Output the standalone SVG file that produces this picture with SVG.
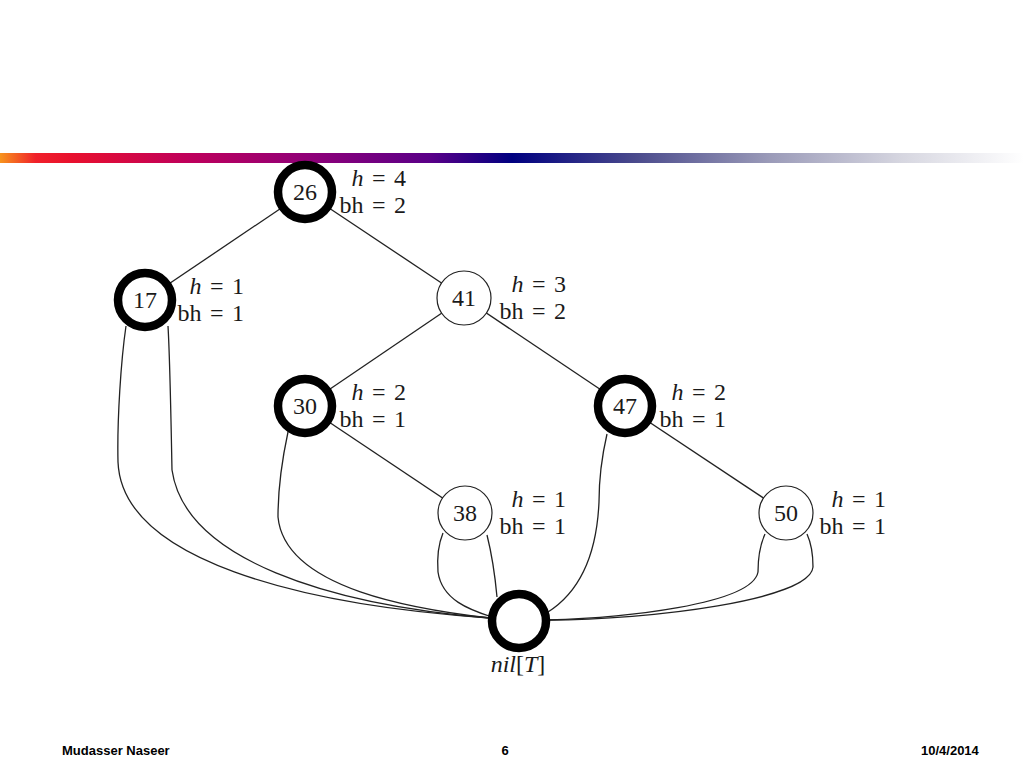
<svg xmlns="http://www.w3.org/2000/svg" width="1024" height="768" viewBox="0 0 1024 768">
<defs>
<linearGradient id="bar" x1="0" y1="0" x2="1024" y2="0" gradientUnits="userSpaceOnUse">
<stop offset="0" stop-color="#F7941D"/>
<stop offset="0.035" stop-color="#F0202A"/>
<stop offset="0.07" stop-color="#E8102E"/>
<stop offset="0.18" stop-color="#C0005A"/>
<stop offset="0.3" stop-color="#900078"/>
<stop offset="0.42" stop-color="#5A0088"/>
<stop offset="0.5" stop-color="#000080"/>
<stop offset="0.62" stop-color="#4A4A8C"/>
<stop offset="0.75" stop-color="#9A9AB8"/>
<stop offset="0.88" stop-color="#D6D6E0"/>
<stop offset="1" stop-color="#FFFFFF"/>
</linearGradient>
<style>
.edge{fill:none;stroke:#222;stroke-width:1.3}
.blk{fill:#fff;stroke:#000;stroke-width:8.5}
.red{fill:#fff;stroke:#222;stroke-width:1.2}
.num{font-family:"Liberation Serif","Times New Roman",serif;font-size:24px;fill:#1a1a1a;text-anchor:middle}
.lab{font-family:"Liberation Serif","Times New Roman",serif;font-size:24px;fill:#1a1a1a;text-anchor:end;word-spacing:2.5px}
.it{font-style:italic}
.foot{font-family:"Liberation Sans",Arial,sans-serif;font-size:13px;font-weight:bold;fill:#000}
</style>
</defs>
<rect x="0" y="0" width="1024" height="768" fill="#fff"/>
<rect x="0" y="153" width="1024" height="10" fill="url(#bar)"/>

<g id="connectors">
<line class="edge" x1="305" y1="192" x2="145" y2="300"/>
<line class="edge" x1="305" y1="192" x2="464" y2="298"/>
<line class="edge" x1="464" y1="298" x2="305" y2="406"/>
<line class="edge" x1="464" y1="298" x2="625" y2="406"/>
<line class="edge" x1="305" y1="406" x2="465" y2="513"/>
<line class="edge" x1="625" y1="406" x2="786" y2="513"/>
<path class="edge" d="M126,326 C121,360 117,420 118,462 C122,560 300,605 490,618"/>
<path class="edge" d="M168,326 C170,360 171,420 172,470 C185,560 330,605 490,618"/>
<path class="edge" d="M288,432 C282,460 278,490 278,517 C285,590 420,610 490,618"/>
<path class="edge" d="M443,533 C438,545 437,558 438,572 C442,600 470,610 492,617"/>
<path class="edge" d="M487,535 C492,555 495,575 497,597"/>
<path class="edge" d="M607,434 C601,460 599,480 599,502 C596,570 570,598 548,612"/>
<path class="edge" d="M765,534 C760,545 758,558 758,572 C752,605 620,618 548,620"/>
<path class="edge" d="M807,534 C812,545 813,556 813,567 C810,600 650,620 548,620"/>
</g>

<g id="n26"><circle class="blk" cx="305" cy="192" r="27"/><text class="num" x="305" y="200">26</text>
<text class="lab" x="406" y="186"><tspan class="it">h</tspan> = 4</text><text class="lab" x="406" y="213">bh = 2</text></g>
<g id="n17"><circle class="blk" cx="145" cy="300" r="27"/><text class="num" x="145" y="308">17</text>
<text class="lab" x="244" y="294"><tspan class="it">h</tspan> = 1</text><text class="lab" x="244" y="321">bh = 1</text></g>
<g id="n41"><circle class="red" cx="464" cy="298" r="27"/><text class="num" x="464" y="306">41</text>
<text class="lab" x="566" y="292"><tspan class="it">h</tspan> = 3</text><text class="lab" x="566" y="319">bh = 2</text></g>
<g id="n30"><circle class="blk" cx="305" cy="406" r="27"/><text class="num" x="305" y="414">30</text>
<text class="lab" x="406" y="400"><tspan class="it">h</tspan> = 2</text><text class="lab" x="406" y="427">bh = 1</text></g>
<g id="n47"><circle class="blk" cx="625" cy="406" r="27"/><text class="num" x="625" y="414">47</text>
<text class="lab" x="726" y="400"><tspan class="it">h</tspan> = 2</text><text class="lab" x="726" y="427">bh = 1</text></g>
<g id="n38"><circle class="red" cx="465" cy="513" r="27"/><text class="num" x="465" y="521">38</text>
<text class="lab" x="566" y="507"><tspan class="it">h</tspan> = 1</text><text class="lab" x="566" y="534">bh = 1</text></g>
<g id="n50"><circle class="red" cx="786" cy="513" r="27"/><text class="num" x="786" y="521">50</text>
<text class="lab" x="886" y="507"><tspan class="it">h</tspan> = 1</text><text class="lab" x="886" y="534">bh = 1</text></g>
<g id="nil"><circle class="blk" cx="519" cy="621" r="27"/>
<text class="num" x="518" y="672"><tspan class="it">nil</tspan>[<tspan class="it">T</tspan>]</text></g>

<g id="footer">
<text class="foot" x="62" y="755">Mudasser Naseer</text>
<text class="foot" x="505" y="755" text-anchor="middle">6</text>
<text class="foot" x="921" y="755">10/4/2014</text>
</g>
</svg>
